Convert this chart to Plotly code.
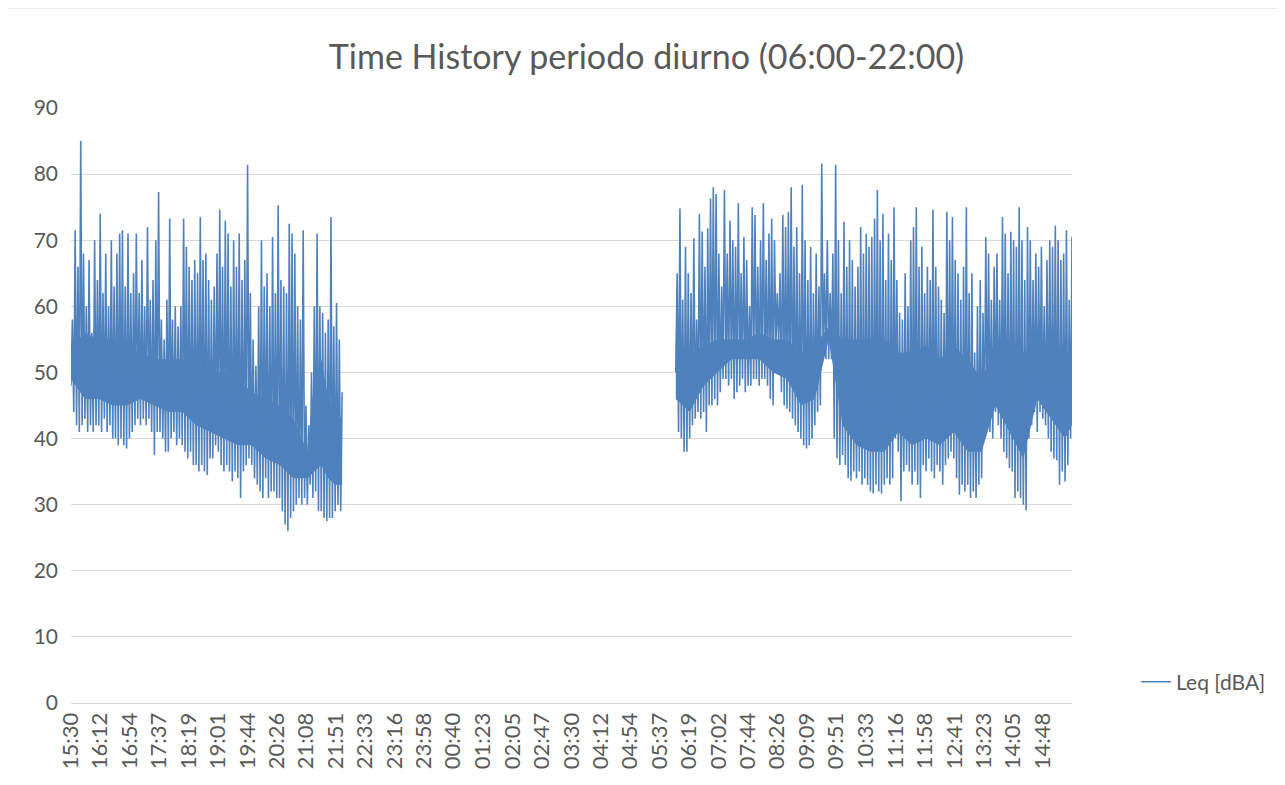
import plotly.graph_objects as go

# ---------------- data ----------------
title_text = "Time History periodo diurno (06:00-22:00)"
series_name = "Leq [dBA]"

tick_labels = ["15:30", "16:12", "16:54", "17:37", "18:19", "19:01", "19:44", "20:26",
               "21:08", "21:51", "22:33", "23:16", "23:58", "00:40", "01:23", "02:05",
               "02:47", "03:30", "04:12", "04:54", "05:37", "06:19", "07:02", "07:44",
               "08:26", "09:09", "09:51", "10:33", "11:16", "11:58", "12:41", "13:23",
               "14:05", "14:48"]

axis_start = "15:30"
axis_span_min = 1440
step_min = 4          # each block: minimum then maximum Leq within 4 minutes

# afternoon / evening block, 15:30 -> 22:00
seg1_start = "15:30"
seg1_low = [48, 44, 42, 41, 42, 43, 41, 42, 41, 42, 42, 41, 43, 41, 42, 40, 40, 39, 40, 39,
            38.5, 40, 41, 42, 43, 42, 43, 42, 43, 41, 37.5, 41, 41, 40, 38, 38, 40, 41, 39, 40,
            39, 38, 37, 38, 36, 36, 35, 36, 35, 34.5, 37, 37, 39, 38, 36, 35, 36, 35, 33.5, 35,
            34, 31, 35, 36, 37, 36, 34, 33, 32, 31, 34, 31, 32, 32, 31, 31, 29, 27, 26, 28,
            29, 30, 31, 30, 31, 30, 33, 31, 32, 29, 29, 28, 27.5, 28, 28, 29, 30, 29]
seg1_high = [58, 71.5, 66, 85, 68, 60, 67, 56, 70, 64, 74, 62, 68, 60, 70, 63, 68, 71, 71.5, 63,
             71, 62, 65, 71, 62, 67, 60, 72, 61, 64, 70, 77.3, 58, 55, 61, 73.3, 58, 60, 57, 60,
             73.3, 69, 66, 64, 67, 65, 73.5, 67, 68, 64, 61, 63, 68, 74.6, 66, 73, 71, 63, 70, 66,
             71, 64, 67, 81.4, 62, 55, 51, 60, 70, 63, 65, 60, 70.5, 62, 75.3, 64, 63, 62, 72.5, 71,
             68, 60, 58, 71.5, 45, 42, 50, 60, 71, 60, 59, 56, 58, 73.5, 57, 60.5, 55, 47]

# morning / daytime block, 06:00 -> 15:30
seg2_start = "06:00"
seg2_low = [50, 41, 40, 38, 38, 40, 42, 43, 44, 43, 44, 41, 45, 45, 46, 45, 47, 49, 49, 48,
            49, 46, 47, 48, 49, 47, 48, 48, 49, 49, 48, 49, 49, 48, 46, 45, 54, 54, 47, 45,
            44.5, 44, 43, 42, 41, 40, 39, 38.5, 39, 40, 42, 44, 45, 52.3, 52, 52, 52, 40, 37, 36,
            37.5, 36, 34, 33.6, 35, 34, 35, 33, 34, 33, 32, 31.7, 33, 32, 31.7, 33, 34, 33, 34, 40,
            38, 30.5, 35, 36, 35, 33, 35, 33, 31, 36, 35, 37, 35, 34, 36, 35, 33, 36, 37, 38,
            37, 34, 31.5, 33, 32, 33, 31, 32, 31, 33, 34, 40, 42, 41, 40, 44, 42, 40, 38, 37,
            35.5, 35, 31, 32, 31, 30, 29.1, 40, 42, 44, 41, 44, 43, 42, 40, 38, 37, 36.7, 33, 35,
            33.5, 36, 40]
seg2_high = [65, 74.8, 61, 69, 65, 62, 70.3, 58, 74, 71.3, 66, 71.8, 76.3, 78, 77, 68, 63, 77.6, 68, 73,
             70, 69, 75.6, 65, 70.5, 67, 60, 75, 73.8, 66, 70, 75.6, 67, 71, 73.3, 70, 62, 65, 73.8, 72,
             74.3, 78, 69, 72, 65, 78.4, 70, 64, 69, 62, 68, 63, 81.6, 65, 70, 62, 68, 81.4, 70, 62,
             72.8, 66, 70, 67, 63, 66, 72, 68, 71, 69, 70.5, 73.3, 77.6, 70, 74, 64, 71, 67, 75, 64,
             59, 58, 65, 60, 70, 72, 75, 66, 69, 62, 66, 64, 74.6, 66, 63, 61, 59, 74.3, 70, 73.5,
             67, 65, 61, 66, 75, 62, 65, 53, 60, 64, 59, 70.5, 68, 61, 66, 68, 61, 73.5, 71, 65,
             71.3, 70, 69, 75, 70, 64, 72, 70, 64, 68, 66, 69, 60, 67, 70, 69, 72.2, 70, 67, 68,
             71.5, 61, 70.5]

# dense core of the trace (where the 1 s samples overlap into a solid band)
core1_time = ["15:30", "15:50", "16:10", "16:30", "16:50", "17:10", "17:30", "17:50", "18:10",
              "18:30", "18:50", "19:10", "19:30", "19:50", "20:10", "20:30", "20:50", "21:10",
              "21:20", "21:30", "21:40", "21:50", "22:00"]
core1_bottom = [49, 46, 46, 45, 45, 46, 45, 44, 44, 42, 41, 40, 39, 39, 37, 36, 34, 34,
                35, 36, 34, 33, 33]
core1_top = [54, 56, 55, 55, 54, 53, 52, 52, 52, 51, 50, 50, 49, 47, 46, 45, 43, 38,
             49, 52, 46, 44, 43]

core2_time = ["06:00", "06:20", "06:40", "07:00", "07:20", "07:40", "08:00", "08:20", "08:40",
              "09:00", "09:20", "09:40", "10:00", "10:20", "10:40", "11:00", "11:20", "11:40",
              "12:00", "12:20", "12:40", "13:00", "13:20", "13:40", "14:00", "14:20", "14:40",
              "15:00", "15:20", "15:30"]
core2_bottom = [46, 44, 48, 50, 52, 52, 52, 50, 49, 45, 46, 55, 42, 39, 38, 38, 41, 39,
                40, 39, 41, 38, 38, 45, 41, 37, 46, 43, 40, 42]
core2_top = [55, 53, 54, 55, 55, 55, 56, 55, 55, 53, 54, 57, 55, 55, 55, 55, 53, 53,
             54, 52, 54, 52, 49, 54, 54, 53, 54, 53, 52, 53]

y_range = [0, 90]
y_step = 10

# ---------------- helpers ----------------
def minutes_from_axis_start(hhmm):
    h, m = map(int, hhmm.split(":"))
    a_h, a_m = map(int, axis_start.split(":"))
    return ((h * 60 + m) - (a_h * 60 + a_m)) % 1440


def block_trace(start, lows, highs):
    t0 = minutes_from_axis_start(start)
    xs, ys = [], []
    for i, (lo, hi) in enumerate(zip(lows, highs)):
        t = t0 + i * step_min
        xs += [t, t + step_min / 2]
        ys += [lo, hi]
    return xs, ys


def core_polygon(times, bottom, top):
    ts = [minutes_from_axis_start(s) for s in times]
    # last point of the day (15:30 next day) maps to the axis end
    ts = [t if not (i == len(ts) - 1 and t == 0) else axis_span_min for i, t in enumerate(ts)]
    return ts + ts[::-1], list(top) + list(bottom)[::-1]


x1, y1 = block_trace(seg1_start, seg1_low, seg1_high)
x2, y2 = block_trace(seg2_start, seg2_low, seg2_high)
x_all = x1 + [None] + x2
y_all = y1 + [None] + y2

tick_vals = [minutes_from_axis_start(s) for s in tick_labels]

FONT = "Lato, Carlito, Calibri, 'Open Sans', sans-serif"
GREY_TXT = "#595959"
GRID = "#D9D9D9"
BLUE = "#4F81BD"

fig = go.Figure()
for times, bot, top in [(core1_time, core1_bottom, core1_top),
                        (core2_time, core2_bottom, core2_top)]:
    px, py = core_polygon(times, bot, top)
    fig.add_trace(go.Scatter(x=px, y=py, mode="lines", fill="toself", fillcolor=BLUE,
                             line=dict(width=0, color=BLUE), showlegend=False,
                             hoverinfo="skip"))

fig.add_trace(go.Scatter(
    x=x_all, y=y_all, mode="lines", name=series_name,
    line=dict(color=BLUE, width=1.6),
    connectgaps=False, showlegend=True,
))

# page body adds an 8 px offset, so the figure is 8 px smaller than the window
W, H = 1277, 777
fig.update_layout(
    width=W, height=H,
    margin=dict(l=63, r=213, t=100, b=82),
    paper_bgcolor="white", plot_bgcolor="white",
    font=dict(family=FONT, color=GREY_TXT, size=21),
    title=dict(text=title_text, x=0.5, xanchor="center", y=0.937, yanchor="middle",
               font=dict(family=FONT, size=34, color=GREY_TXT)),
    showlegend=True,
    legend=dict(x=1.064, y=0.035, xanchor="left", yanchor="middle",
                font=dict(family=FONT, size=21, color=GREY_TXT),
                bgcolor="rgba(0,0,0,0)"),
    xaxis=dict(range=[0, axis_span_min], tickmode="array", tickvals=tick_vals,
               ticktext=tick_labels, tickangle=-90, showgrid=False, zeroline=False,
               showline=True, linecolor=GRID, linewidth=1, ticks="",
               tickfont=dict(family=FONT, size=22, color=GREY_TXT)),
    yaxis=dict(range=y_range, dtick=y_step, tick0=0, showgrid=True, gridcolor=GRID,
               gridwidth=1, zeroline=False, showline=False, ticks="",
               ticklabelstandoff=12,
               tickfont=dict(family=FONT, size=21, color=GREY_TXT)),
    shapes=[
        dict(type="line", xref="paper", yref="paper", x0=-0.0639, x1=-0.0639, y0=-0.2, y1=1.168,
             line=dict(color=GRID, width=1)),
        dict(type="line", xref="paper", yref="paper", x0=-0.0639, x1=1.2108, y0=1.168, y1=1.168,
             line=dict(color=GRID, width=1)),
        dict(type="line", xref="paper", yref="paper", x0=1.2108, x1=1.2108, y0=-0.2, y1=1.168,
             line=dict(color=GRID, width=1)),
    ],
)

fig.write_html("out.html")
